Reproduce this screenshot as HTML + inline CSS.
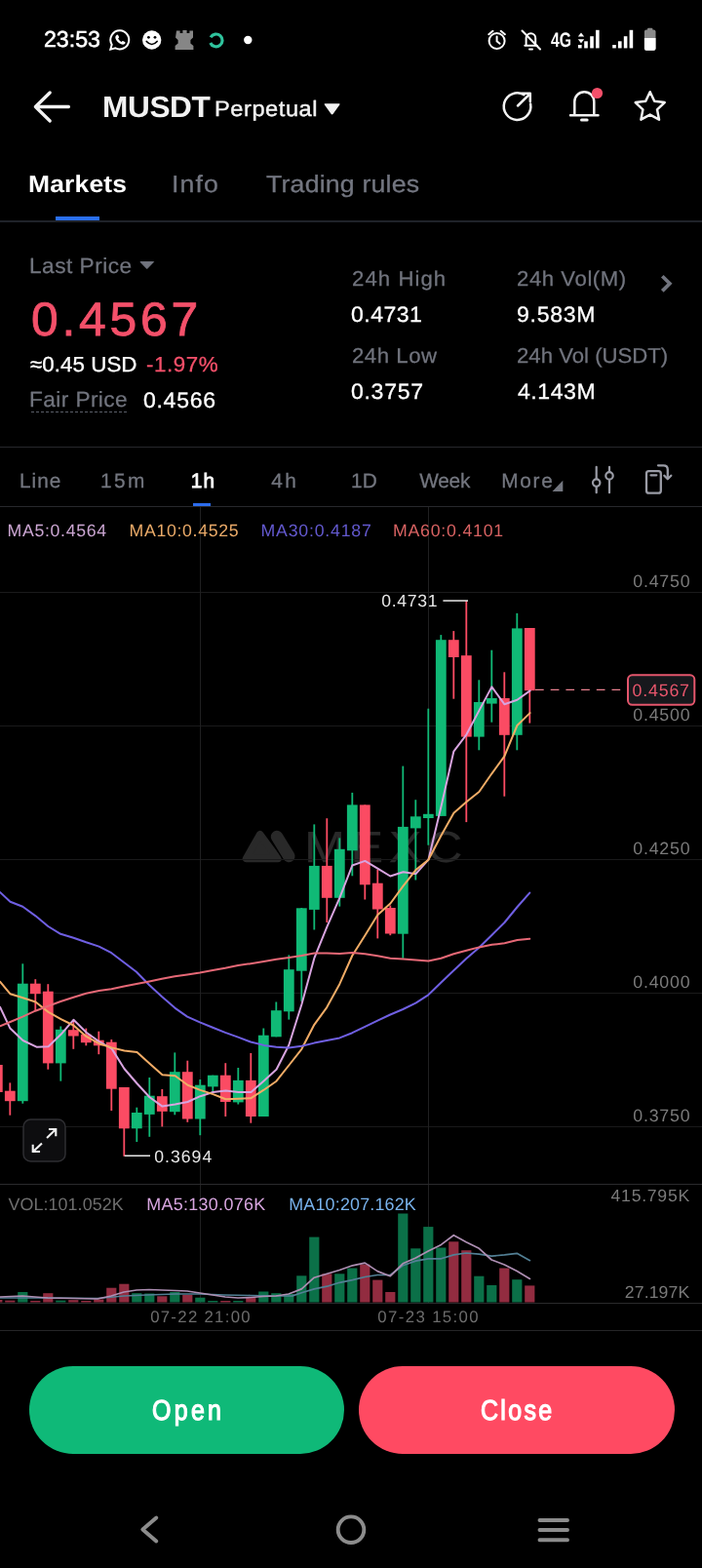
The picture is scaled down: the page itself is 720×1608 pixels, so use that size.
<!DOCTYPE html>
<html lang="en"><head><meta charset="utf-8"><title>MUSDT Perpetual</title>
<meta name="viewport" content="width=720">
<style>
html,body{margin:0;padding:0;background:#000;}
body{width:720px;height:1608px;position:relative;overflow:hidden;font-family:"Liberation Sans",sans-serif;}
.abs{position:absolute;}
.t{position:absolute;white-space:pre;line-height:1;transform-origin:0 0;text-rendering:geometricPrecision;font-family:"Liberation Sans",sans-serif;}
.btn{position:absolute;top:1401px;height:90px;border-radius:45px;}
</style></head><body>
<div class="abs" style="left:0;top:226.3px;width:720px;height:1.6px;background:#1f2229"></div>
<div class="abs" style="left:57px;top:221.5px;width:45px;height:4.6px;background:#2a6ff0"></div>
<div class="abs" style="left:0;top:457.6px;width:720px;height:1.4px;background:#27282c"></div>
<div class="abs" style="left:0;top:518.8px;width:720px;height:1.4px;background:#27282c"></div>
<div class="abs" style="left:198.2px;top:515.6px;width:18px;height:3.8px;background:#2c6cec"></div>
<div class="abs" style="left:31.5px;top:421.5px;width:98px;height:0;border-top:1.5px dashed #5a5e68"></div>
<svg class="abs" style="left:0;top:0" width="720" height="1608" viewBox="0 0 720 1608"><g fill="#292929" stroke="#292929" stroke-linejoin="round" stroke-linecap="round"><path d="M266.7 855.7 L252.5 880.5 L285 880.5 Z" stroke-width="7.5"/><path d="M284 858 L296.300 878" stroke-width="15" stroke="#000" fill="none"/><path d="M284 858 L296.300 878" stroke-width="12.5" fill="none"/></g></svg>
<span class="t" style="left:312.47px;top:846px;font-size:45px;color:#292929;letter-spacing:4.98px;transform:scaleX(1.12);-webkit-text-stroke:0.25px #292929;">MEXC</span>
<svg class="abs" style="left:0;top:0" width="720" height="1608" viewBox="0 0 720 1608"><rect x="0" y="607" width="720" height="1" fill="#1a1a1b"/><rect x="0" y="744" width="720" height="1" fill="#1a1a1b"/><rect x="0" y="881" width="720" height="1" fill="#1a1a1b"/><rect x="0" y="1018" width="720" height="1" fill="#1a1a1b"/><rect x="0" y="1155" width="720" height="1" fill="#1a1a1b"/><rect x="205" y="520" width="1" height="816" fill="#202021"/><rect x="439" y="520" width="1" height="816" fill="#202021"/><rect x="0" y="1214" width="720" height="1" fill="#2a2a2c"/><rect x="0" y="1336" width="720" height="1" fill="#2a2a2c"/><rect x="0" y="1364" width="720" height="1" fill="#252527"/><rect x="-3.60" y="1092.0" width="1.8" height="28.0" fill="#fb4b63"/><rect x="-8.10" y="1092.0" width="10.8" height="28.0" fill="#fb4b63"/><rect x="9.40" y="1110.4" width="1.8" height="33.3" fill="#fb4b63"/><rect x="4.90" y="1118.7" width="10.8" height="10.5" fill="#fb4b63"/><rect x="22.40" y="988.3" width="1.8" height="143.4" fill="#10b976"/><rect x="17.90" y="1008.7" width="10.8" height="120.5" fill="#10b976"/><rect x="35.40" y="1004.2" width="1.8" height="32.0" fill="#fb4b63"/><rect x="30.90" y="1008.7" width="10.8" height="10.5" fill="#fb4b63"/><rect x="48.40" y="1009.2" width="1.8" height="87.5" fill="#fb4b63"/><rect x="43.90" y="1016.7" width="10.8" height="73.7" fill="#fb4b63"/><rect x="61.40" y="1052.5" width="1.8" height="56.2" fill="#10b976"/><rect x="56.90" y="1055.8" width="10.8" height="34.6" fill="#10b976"/><rect x="74.40" y="1046.0" width="1.8" height="29.8" fill="#fb4b63"/><rect x="69.90" y="1056.2" width="10.8" height="6.3" fill="#fb4b63"/><rect x="87.40" y="1054.6" width="1.8" height="17.7" fill="#fb4b63"/><rect x="82.90" y="1060.8" width="10.8" height="8.4" fill="#fb4b63"/><rect x="100.40" y="1057.7" width="1.8" height="23.5" fill="#fb4b63"/><rect x="95.90" y="1066.7" width="10.8" height="5.6" fill="#fb4b63"/><rect x="113.40" y="1066.0" width="1.8" height="73.0" fill="#fb4b63"/><rect x="108.90" y="1068.7" width="10.8" height="48.0" fill="#fb4b63"/><rect x="126.40" y="1115.0" width="1.8" height="70.8" fill="#fb4b63"/><rect x="121.90" y="1115.0" width="10.8" height="42.3" fill="#fb4b63"/><rect x="139.40" y="1135.7" width="1.8" height="35.3" fill="#10b976"/><rect x="134.90" y="1141.0" width="10.8" height="16.3" fill="#10b976"/><rect x="152.40" y="1105.0" width="1.8" height="60.8" fill="#10b976"/><rect x="147.90" y="1123.7" width="10.8" height="19.2" fill="#10b976"/><rect x="165.40" y="1116.9" width="1.8" height="38.5" fill="#fb4b63"/><rect x="160.90" y="1124.2" width="10.8" height="15.6" fill="#fb4b63"/><rect x="178.40" y="1079.4" width="1.8" height="63.9" fill="#10b976"/><rect x="173.90" y="1099.2" width="10.8" height="41.0" fill="#10b976"/><rect x="191.40" y="1087.7" width="1.8" height="63.1" fill="#fb4b63"/><rect x="186.90" y="1099.2" width="10.8" height="48.3" fill="#fb4b63"/><rect x="204.40" y="1107.0" width="1.8" height="57.2" fill="#10b976"/><rect x="199.90" y="1112.7" width="10.8" height="34.8" fill="#10b976"/><rect x="217.40" y="1102.7" width="1.8" height="16.9" fill="#10b976"/><rect x="212.90" y="1102.7" width="10.8" height="11.7" fill="#10b976"/><rect x="230.40" y="1090.2" width="1.8" height="54.8" fill="#fb4b63"/><rect x="225.90" y="1102.7" width="10.8" height="27.3" fill="#fb4b63"/><rect x="243.40" y="1095.0" width="1.8" height="37.5" fill="#10b976"/><rect x="238.90" y="1107.9" width="10.8" height="22.5" fill="#10b976"/><rect x="256.40" y="1080.0" width="1.8" height="71.7" fill="#fb4b63"/><rect x="251.90" y="1107.9" width="10.8" height="37.1" fill="#fb4b63"/><rect x="269.40" y="1054.5" width="1.8" height="90.5" fill="#10b976"/><rect x="264.90" y="1061.7" width="10.8" height="83.3" fill="#10b976"/><rect x="282.40" y="1027.5" width="1.8" height="35.8" fill="#10b976"/><rect x="277.90" y="1036.2" width="10.8" height="27.1" fill="#10b976"/><rect x="295.40" y="979.4" width="1.8" height="66.2" fill="#10b976"/><rect x="290.90" y="994.2" width="10.8" height="43.1" fill="#10b976"/><rect x="308.40" y="931.0" width="1.8" height="95.9" fill="#10b976"/><rect x="303.90" y="931.3" width="10.8" height="64.4" fill="#10b976"/><rect x="321.40" y="845.4" width="1.8" height="108.1" fill="#10b976"/><rect x="316.90" y="887.9" width="10.8" height="45.0" fill="#10b976"/><rect x="334.40" y="839.2" width="1.8" height="106.8" fill="#fb4b63"/><rect x="329.90" y="887.9" width="10.8" height="32.9" fill="#fb4b63"/><rect x="347.40" y="859.4" width="1.8" height="70.2" fill="#10b976"/><rect x="342.90" y="870.8" width="10.8" height="50.0" fill="#10b976"/><rect x="360.40" y="812.9" width="1.8" height="85.4" fill="#10b976"/><rect x="355.90" y="825.4" width="10.8" height="46.9" fill="#10b976"/><rect x="373.40" y="825.4" width="1.8" height="97.1" fill="#fb4b63"/><rect x="368.90" y="825.4" width="10.8" height="81.9" fill="#fb4b63"/><rect x="386.40" y="891.7" width="1.8" height="70.7" fill="#fb4b63"/><rect x="381.90" y="905.7" width="10.8" height="26.8" fill="#fb4b63"/><rect x="399.40" y="928.5" width="1.8" height="30.7" fill="#fb4b63"/><rect x="394.90" y="931.0" width="10.8" height="26.5" fill="#fb4b63"/><rect x="412.40" y="785.6" width="1.8" height="197.1" fill="#10b976"/><rect x="407.90" y="847.9" width="10.8" height="109.8" fill="#10b976"/><rect x="425.40" y="820.2" width="1.8" height="82.3" fill="#10b976"/><rect x="420.90" y="837.3" width="10.8" height="12.1" fill="#10b976"/><rect x="438.40" y="726.7" width="1.8" height="140.0" fill="#10b976"/><rect x="433.90" y="834.8" width="10.8" height="4.2" fill="#10b976"/><rect x="451.40" y="651.1" width="1.8" height="185.8" fill="#10b976"/><rect x="446.90" y="656.2" width="10.8" height="180.7" fill="#10b976"/><rect x="464.40" y="647.1" width="1.8" height="69.6" fill="#fb4b63"/><rect x="459.90" y="656.2" width="10.8" height="17.8" fill="#fb4b63"/><rect x="477.40" y="616.0" width="1.8" height="227.1" fill="#fb4b63"/><rect x="472.90" y="672.2" width="10.8" height="83.4" fill="#fb4b63"/><rect x="490.40" y="697.3" width="1.8" height="72.0" fill="#10b976"/><rect x="485.90" y="720.0" width="10.8" height="35.6" fill="#10b976"/><rect x="503.40" y="666.7" width="1.8" height="74.0" fill="#10b976"/><rect x="498.90" y="716.0" width="10.8" height="5.6" fill="#10b976"/><rect x="516.40" y="689.3" width="1.8" height="127.4" fill="#fb4b63"/><rect x="511.90" y="716.0" width="10.8" height="37.8" fill="#fb4b63"/><rect x="529.40" y="628.9" width="1.8" height="140.4" fill="#10b976"/><rect x="524.90" y="644.4" width="10.8" height="109.4" fill="#10b976"/><rect x="542.40" y="644.0" width="1.8" height="97.6" fill="#fb4b63"/><rect x="537.90" y="644.0" width="10.8" height="64.2" fill="#fb4b63"/><polyline points="0.0,1032.7 10.4,1054.6 23.5,1067.0 37.5,1073.7 49.6,1073.3 62.5,1060.8 75.4,1045.8 88.5,1058.7 101.5,1068.0 114.6,1075.4 127.5,1096.0 140.4,1111.0 153.5,1125.2 166.5,1134.6 179.6,1132.5 192.5,1130.0 205.4,1124.2 218.5,1120.0 231.5,1118.5 244.6,1120.0 257.5,1120.0 270.6,1108.5 283.5,1096.7 296.3,1071.7 309.4,1030.0 322.3,982.7 335.2,950.8 348.3,920.8 361.3,887.5 374.4,882.9 387.3,890.6 400.3,898.5 413.5,894.2 426.5,896.2 439.4,881.7 452.5,827.0 465.3,770.7 478.4,753.3 491.3,728.9 504.4,704.4 517.3,722.2 530.4,717.8 543.6,708.4" fill="none" stroke="#d8a4e0" stroke-width="2" stroke-linejoin="round" stroke-linecap="round" opacity="1"/><polyline points="0.0,1006.7 10.4,1019.2 23.5,1023.3 36.5,1027.5 49.6,1037.9 62.5,1045.2 75.4,1051.5 88.5,1062.9 101.5,1070.2 114.6,1074.4 127.5,1077.5 140.5,1079.1 153.5,1090.8 166.5,1102.3 179.6,1103.3 192.5,1112.7 205.4,1117.9 218.5,1122.1 231.5,1127.3 244.6,1126.7 257.5,1126.2 270.6,1117.7 283.5,1108.7 296.3,1092.5 309.4,1075.8 322.3,1050.8 335.2,1033.1 348.3,1009.2 361.3,980.0 374.4,959.2 387.3,938.3 400.4,926.5 413.5,908.7 426.5,892.1 439.4,881.7 452.5,856.7 465.4,833.7 478.5,822.3 491.4,812.0 504.4,793.3 517.3,775.6 530.4,744.0 543.6,731.1" fill="none" stroke="#f2ac66" stroke-width="2" stroke-linejoin="round" stroke-linecap="round" opacity="1"/><polyline points="0.0,915.0 10.5,924.7 23.3,929.8 36.2,939.1 49.4,950.0 62.2,957.8 75.4,961.7 88.3,966.3 101.5,970.6 114.3,977.2 127.2,987.0 140.0,996.7 153.2,1010.3 166.0,1022.0 179.3,1033.6 192.1,1042.6 205.0,1048.4 218.2,1053.8 231.0,1058.9 244.2,1063.6 257.1,1068.5 270.6,1071.9 283.5,1073.7 296.3,1074.4 309.4,1072.7 322.3,1069.6 335.2,1067.1 348.3,1064.4 361.3,1059.2 374.4,1052.9 387.3,1046.7 400.3,1040.5 413.3,1035.0 426.4,1028.6 439.2,1020.3 452.2,1007.8 465.3,995.3 478.3,983.0 491.1,972.0 504.4,959.0 517.5,946.0 530.6,930.0 543.3,915.6" fill="none" stroke="#6f5fe2" stroke-width="2" stroke-linejoin="round" stroke-linecap="round" opacity="1"/><polyline points="0.0,1052.3 10.5,1048.0 23.3,1042.6 36.2,1036.7 49.4,1031.7 62.2,1027.0 75.4,1022.7 88.3,1018.8 101.5,1016.1 114.3,1014.2 127.2,1011.5 140.0,1009.1 153.2,1006.4 166.0,1003.7 179.3,1001.3 192.1,999.4 205.0,997.5 218.2,995.1 231.0,992.8 244.2,990.1 257.1,988.2 270.6,986.0 283.5,983.7 296.3,982.1 309.4,980.0 322.3,977.5 335.2,977.5 348.3,977.9 361.3,977.1 374.4,978.3 387.3,980.2 400.3,982.7 413.4,983.5 426.4,984.6 439.3,985.5 452.3,982.8 465.3,978.2 478.4,974.7 491.3,971.4 504.5,968.8 517.5,967.3 530.6,964.0 543.3,962.8" fill="none" stroke="#e66876" stroke-width="2" stroke-linejoin="round" stroke-linecap="round" opacity="1"/><rect x="-7.80" y="1333.0" width="10.2" height="2.5" fill="#922c40"/><rect x="5.20" y="1333.7" width="10.2" height="1.8" fill="#922c40"/><rect x="18.20" y="1325.0" width="10.2" height="10.5" fill="#0b7048"/><rect x="31.20" y="1334.0" width="10.2" height="1.5" fill="#922c40"/><rect x="44.20" y="1326.2" width="10.2" height="9.3" fill="#922c40"/><rect x="57.20" y="1333.7" width="10.2" height="1.8" fill="#0b7048"/><rect x="70.20" y="1333.2" width="10.2" height="2.3" fill="#922c40"/><rect x="83.20" y="1334.0" width="10.2" height="1.5" fill="#922c40"/><rect x="96.20" y="1332.5" width="10.2" height="3.0" fill="#922c40"/><rect x="109.20" y="1320.7" width="10.2" height="14.8" fill="#922c40"/><rect x="122.20" y="1316.7" width="10.2" height="18.8" fill="#922c40"/><rect x="135.20" y="1326.2" width="10.2" height="9.3" fill="#0b7048"/><rect x="148.20" y="1326.5" width="10.2" height="9.0" fill="#0b7048"/><rect x="161.20" y="1329.3" width="10.2" height="6.2" fill="#922c40"/><rect x="174.20" y="1325.0" width="10.2" height="10.5" fill="#0b7048"/><rect x="187.20" y="1328.0" width="10.2" height="7.5" fill="#922c40"/><rect x="200.20" y="1330.7" width="10.2" height="4.8" fill="#0b7048"/><rect x="213.20" y="1334.0" width="10.2" height="1.5" fill="#0b7048"/><rect x="226.20" y="1334.0" width="10.2" height="1.5" fill="#922c40"/><rect x="239.20" y="1334.0" width="10.2" height="1.5" fill="#0b7048"/><rect x="252.20" y="1330.0" width="10.2" height="5.5" fill="#922c40"/><rect x="265.20" y="1324.5" width="10.2" height="11.0" fill="#0b7048"/><rect x="278.20" y="1326.2" width="10.2" height="9.3" fill="#0b7048"/><rect x="291.20" y="1327.0" width="10.2" height="8.5" fill="#0b7048"/><rect x="304.20" y="1308.3" width="10.2" height="27.2" fill="#0b7048"/><rect x="317.20" y="1268.6" width="10.2" height="66.9" fill="#0b7048"/><rect x="330.20" y="1306.3" width="10.2" height="29.2" fill="#922c40"/><rect x="343.20" y="1306.3" width="10.2" height="29.2" fill="#0b7048"/><rect x="356.20" y="1300.5" width="10.2" height="35.0" fill="#0b7048"/><rect x="369.20" y="1296.6" width="10.2" height="38.9" fill="#922c40"/><rect x="382.20" y="1312.6" width="10.2" height="22.9" fill="#922c40"/><rect x="395.20" y="1325.0" width="10.2" height="10.5" fill="#922c40"/><rect x="408.20" y="1244.5" width="10.2" height="91.0" fill="#0b7048"/><rect x="421.20" y="1280.3" width="10.2" height="55.2" fill="#0b7048"/><rect x="434.20" y="1258.1" width="10.2" height="77.4" fill="#0b7048"/><rect x="447.20" y="1279.5" width="10.2" height="56.0" fill="#0b7048"/><rect x="460.20" y="1273.3" width="10.2" height="62.2" fill="#922c40"/><rect x="473.20" y="1282.2" width="10.2" height="53.3" fill="#922c40"/><rect x="486.20" y="1308.7" width="10.2" height="26.8" fill="#0b7048"/><rect x="499.20" y="1318.0" width="10.2" height="17.5" fill="#0b7048"/><rect x="512.20" y="1300.5" width="10.2" height="35.0" fill="#922c40"/><rect x="525.20" y="1312.2" width="10.2" height="23.3" fill="#0b7048"/><rect x="538.20" y="1318.4" width="10.2" height="17.1" fill="#922c40"/><polyline points="0.0,1331.0 50.0,1331.0 100.0,1331.5 127.0,1329.0 150.0,1328.0 180.0,1327.0 205.0,1327.0 230.0,1328.0 257.0,1328.5 283.0,1329.0 300.0,1328.9 309.3,1325.8 322.2,1321.9 335.4,1319.2 348.2,1315.3 361.5,1312.6 374.3,1309.5 387.1,1307.5 400.3,1307.5 413.2,1297.8 426.4,1293.1 439.2,1290.8 452.5,1290.8 465.3,1286.9 478.1,1285.0 491.4,1286.1 504.2,1288.1 517.4,1286.9 530.2,1285.3 543.5,1292.7" fill="none" stroke="#527f94" stroke-width="1.7" stroke-linejoin="round" stroke-linecap="round" opacity="1"/><polyline points="0.0,1330.0 23.0,1329.0 49.0,1331.0 75.0,1331.5 100.0,1332.0 114.0,1329.0 127.0,1325.0 140.0,1323.0 153.0,1322.5 166.0,1323.0 180.0,1323.5 192.0,1324.0 205.0,1326.0 218.0,1328.0 231.0,1330.0 244.0,1331.0 257.0,1330.5 270.0,1329.5 283.0,1329.0 296.0,1327.0 309.3,1321.9 322.2,1310.2 335.4,1306.3 348.2,1302.5 361.5,1297.8 374.3,1295.1 387.1,1303.6 400.3,1308.7 413.2,1295.8 426.4,1290.0 439.2,1283.0 452.5,1276.4 465.3,1266.7 478.1,1273.7 491.4,1280.3 504.2,1292.0 517.4,1297.0 530.2,1303.6 543.5,1311.4" fill="none" stroke="#ad8eb2" stroke-width="1.7" stroke-linejoin="round" stroke-linecap="round" opacity="1"/><rect x="454.4" y="615.3" width="25.6" height="1.5" fill="#e8e8e8"/><rect x="127.7" y="1184.5" width="26.3" height="1.5" fill="#e8e8e8"/><line x1="549" y1="707.3" x2="641" y2="707.3" stroke="#e8808e" stroke-width="1.2" stroke-dasharray="8.7 7"/><rect x="644" y="692.300" width="68.300" height="30.500" rx="4.500" fill="#17181c" stroke="#e4566c" stroke-width="2"/></svg>
<svg class="abs" style="left:0;top:0" width="720" height="1608" viewBox="0 0 720 1608" fill="none">
<!-- status icons -->
<g id="wa"><path d="M123 31.2a9.6 9.6 0 0 0-8.3 14.5l-1.4 5 5.1-1.3A9.6 9.6 0 1 0 123 31.200z" stroke="#fff" stroke-width="2"/><path d="M119.300 36.300c.5-1 1.300-1 1.800-.300l.9 1.700c.200.500 0 .9-.400 1.300l-.5.600c.8 1.500 1.900 2.600 3.400 3.400l.7-.6c.400-.300.800-.500 1.300-.200l1.600.9c.7.500.600 1.300-.2 1.900-1 .8-2.300.9-3.700.300-2.700-1.200-4.600-3.100-5.600-5.600-.500-1.300-.300-2.500.7-3.400z" fill="#fff"/></g>
<g id="smile"><circle cx="155.700" cy="41" r="9.700" fill="#fff"/><circle cx="152.400" cy="38.300" r="1.400" fill="#000"/><circle cx="159" cy="38.300" r="1.400" fill="#000"/><path d="M150.300 42.500q5.400 6 10.800 0" stroke="#000" stroke-width="1.700" stroke-linecap="round"/></g>
<g id="rook" fill="#868686"><path d="M181 31.500h3.600v2.600h2.800v-3h4.200v3h2.800v-2.600h3.600v7l-2.600 2.400v3.600l3 2.600v3.900h-18.800v-3.900l3-2.600v-3.600l-2.600-2.400z"/></g>
<g id="spin"><path d="M216.100 38.200a6.400 6.400 0 1 1 -.3 5.800" stroke="#2fc39d" stroke-width="3.200" stroke-linecap="butt"/></g>
<circle cx="254.300" cy="41" r="4.200" fill="#fff"/>
<g id="alarm" stroke="#fff" stroke-width="2" stroke-linecap="round"><circle cx="509.600" cy="42" r="8"/><path d="M509.600 37.500v4.800l3 2.400"/><path d="M501.300 35.200l4.200-3.400M517.900 35.200l-4.200-3.400"/></g>
<g id="mute" stroke="#fff" stroke-width="2" stroke-linecap="round" stroke-linejoin="round"><path d="M538.300 46.800h12.400M539.600 46.500v-7.500a4.800 4.800 0 0 1 9.600 0v7.500"/><path d="M543 50.500h3"/><path d="M535.500 31.500l18.500 19"/></g>
<g id="sig1" fill="#fff"><path d="M596 33.500l3.200 4h-6.400zM596 44.200l-3.200-4h6.400z"/><rect x="593" y="46" width="3.600" height="3.400"/><rect x="599.200" y="42.300" width="3.600" height="7.100"/><rect x="605.200" y="37.200" width="3.600" height="12.200"/><rect x="611" y="30.800" width="3.600" height="18.600"/></g>
<g id="sig2" fill="#fff"><rect x="628.200" y="46" width="3.600" height="3.400"/><rect x="634" y="42.300" width="3.600" height="7.100"/><rect x="639.800" y="37.200" width="3.600" height="12.200"/><rect x="645.600" y="30.800" width="3.600" height="18.600"/></g>
<g id="bat"><rect x="664" y="28.700" width="5.400" height="3" rx="1" fill="#8a8a8a"/><rect x="660.900" y="30.500" width="11.600" height="21.200" rx="2" fill="#8a8a8a"/><path d="M660.900 39h11.600v10.700a2 2 0 0 1-2 2h-7.600a2 2 0 0 1-2-2z" fill="#fff"/></g>
<!-- header -->
<g stroke="#f2f2f2" stroke-width="3.300" stroke-linecap="round" stroke-linejoin="round"><path d="M36.400 109.500h34M51.200 95l-14.800 14.500 14.800 14.500"/></g>
<path d="M333.500 106.200h14.200q1.600 0 .6 1.400l-6.600 9.200q-1.100 1.500-2.200 0l-6.600-9.200q-1-1.400.6-1.400z" fill="#f2f2f2"/>
<g stroke="#f2f2f2" stroke-width="2.500" stroke-linecap="round" stroke-linejoin="round"><path d="M537.500 97.200a13.800 13.800 0 1 0 6.600 9.300"/><path d="M531 108.500l12.600-12.300M535.500 95.800h8.300v8.300"/></g>
<g stroke="#f2f2f2" stroke-width="2.500" stroke-linecap="round" stroke-linejoin="round"><path d="M585 118.300h28.500M589.300 118v-13.800a10 10 0 0 1 20 0v13.800"/><path d="M596.500 123h5.600" stroke-width="3"/></g>
<circle cx="612.500" cy="95.500" r="5.600" fill="#f4506a"/>
<path d="M666.700 94.200l4.500 9.600 10.500 1.300-7.700 7.200 2 10.400-9.300-5.100-9.300 5.100 2-10.400-7.700-7.200 10.500-1.300z" stroke="#f2f2f2" stroke-width="2.500" stroke-linejoin="round"/>
<!-- last price caret, chevron -->
<path d="M144 268.600h13.600l-6.800 7z" fill="#71747e" stroke="#71747e" stroke-width="1" stroke-linejoin="round"/>
<path d="M679.300 283.200l7.600 7.600-7.600 7.600" stroke="#71747e" stroke-width="3.700" stroke-linecap="butt" stroke-linejoin="miter"/>
<!-- More triangle -->
<path d="M577.300 492.800v11.200h-10.800z" fill="#73767f"/>
<!-- sliders -->
<g stroke="#9a9ca6" stroke-width="2.200" stroke-linecap="round"><path d="M611.700 478.800v12.200M611.700 499.200v6M625 478.800v5M625 492v13.200"/><circle cx="611.700" cy="495.100" r="3.700"/><circle cx="625" cy="487.900" r="3.700"/></g>
<!-- rotate phone -->
<g stroke="#9a9ca6" stroke-width="2.300" stroke-linecap="round" stroke-linejoin="round"><rect x="663" y="483.200" width="14.800" height="22.500" rx="2.500"/><path d="M667.500 487.300h5.800"/><path d="M675 477.300h5.500q4.300 0 4.300 4.300v8.500"/><path d="M681.300 487.800l3.500 3.500 3.500-3.500"/></g>
<!-- expand button -->
<rect x="24" y="1148" width="43" height="43" rx="7.500" fill="#0d0d0f" stroke="#2e2e32" stroke-width="1.500"/>
<g stroke="#f0f0f0" stroke-width="2.100" stroke-linecap="square" stroke-linejoin="miter"><path d="M48.800 1166.200l8-7.600M51 1158h6.300v6.300"/><path d="M42.200 1173.200l-8 7.600M40 1181h-6.300v-6.300"/></g>
<!-- nav bar -->
<g stroke="#8c8c8c" stroke-width="3.900" stroke-linecap="round" stroke-linejoin="round"><path d="M160.300 1556.500l-14 12 14 12"/><circle cx="360" cy="1568.700" r="13.300"/><path d="M553.500 1559h28.500M553.500 1569h28.500M553.500 1579.300h28.500"/></g>
</svg>

<div class="btn" style="left:30px;width:323px;background:#0fb978"></div>
<div class="btn" style="left:367.5px;width:324.5px;background:#ff4a62"></div>
<span class="t" style="left:44.91px;top:29px;font-size:23.2px;color:#ffffff;letter-spacing:0.014px;transform:scaleX(1.0000);-webkit-text-stroke:0.55px #ffffff;">23:53</span>
<span class="t" style="left:564.76px;top:31px;font-size:21px;color:#ffffff;transform:scaleX(0.7513);font-weight:700;">4G</span>
<span class="t" style="left:105.44px;top:95px;font-size:30.4px;color:#f2f2f2;letter-spacing:-0.366px;transform:scaleX(1.0400);font-weight:700;">MUSDT</span>
<span class="t" style="left:219.61px;top:101px;font-size:22.3px;color:#f2f2f2;letter-spacing:0.514px;transform:scaleX(1.0600);-webkit-text-stroke:0.4px #f2f2f2;">Perpetual</span>
<span class="t" style="left:28.78px;top:178px;font-size:24.5px;color:#ffffff;letter-spacing:0.148px;transform:scaleX(1.0800);font-weight:700;">Markets</span>
<span class="t" style="left:175.75px;top:178px;font-size:24.5px;color:#737680;letter-spacing:1.012px;transform:scaleX(1.0900);-webkit-text-stroke:0.3px #737680;">Info</span>
<span class="t" style="left:273.02px;top:178px;font-size:24.5px;color:#737680;letter-spacing:0.174px;transform:scaleX(1.0900);-webkit-text-stroke:0.3px #737680;">Trading rules</span>
<span class="t" style="left:30.01px;top:262px;font-size:22px;color:#71747e;letter-spacing:0.481px;transform:scaleX(1.0300);-webkit-text-stroke:0.25px #71747e;">Last Price</span>
<span class="t" style="left:31.61px;top:304px;font-size:48.4px;color:#f4506a;letter-spacing:3.639px;transform:scaleX(1.0300);-webkit-text-stroke:0.8px #f4506a;">0.4567</span>
<span class="t" style="left:30.99px;top:363px;font-size:21.7px;color:#ffffff;letter-spacing:0.048px;transform:scaleX(1.0300);-webkit-text-stroke:0.3px #ffffff;">≈0.45 USD</span>
<span class="t" style="left:149.54px;top:363px;font-size:21.7px;color:#f4506a;letter-spacing:0.570px;transform:scaleX(1.0300);-webkit-text-stroke:0.3px #f4506a;">-1.97%</span>
<span class="t" style="left:29.71px;top:399px;font-size:22px;color:#71747e;letter-spacing:0.400px;transform:scaleX(1.0300);-webkit-text-stroke:0.25px #71747e;">Fair Price</span>
<span class="t" style="left:146.63px;top:400px;font-size:22.4px;color:#ffffff;letter-spacing:0.672px;transform:scaleX(1.0300);-webkit-text-stroke:0.3px #ffffff;">0.4566</span>
<span class="t" style="left:360.72px;top:276px;font-size:21.5px;color:#71747e;letter-spacing:1.043px;transform:scaleX(1.0300);-webkit-text-stroke:0.25px #71747e;">24h High</span>
<span class="t" style="left:360.43px;top:312px;font-size:22.4px;color:#ffffff;letter-spacing:0.458px;transform:scaleX(1.0300);-webkit-text-stroke:0.3px #ffffff;">0.4731</span>
<span class="t" style="left:360.72px;top:355px;font-size:21.5px;color:#71747e;letter-spacing:0.540px;transform:scaleX(1.0300);-webkit-text-stroke:0.25px #71747e;">24h Low</span>
<span class="t" style="left:360.43px;top:391px;font-size:22.4px;color:#ffffff;letter-spacing:0.675px;transform:scaleX(1.0300);-webkit-text-stroke:0.3px #ffffff;">0.3757</span>
<span class="t" style="left:530.02px;top:276px;font-size:21.5px;color:#71747e;letter-spacing:0.552px;transform:scaleX(1.0300);-webkit-text-stroke:0.25px #71747e;">24h Vol(M)</span>
<span class="t" style="left:530.11px;top:312px;font-size:22.4px;color:#ffffff;letter-spacing:0.707px;transform:scaleX(1.0300);-webkit-text-stroke:0.3px #ffffff;">9.583M</span>
<span class="t" style="left:530.02px;top:355px;font-size:21.5px;color:#71747e;letter-spacing:0.013px;transform:scaleX(1.0300);-webkit-text-stroke:0.25px #71747e;">24h Vol (USDT)</span>
<span class="t" style="left:530.57px;top:391px;font-size:22.4px;color:#ffffff;letter-spacing:0.520px;transform:scaleX(1.0300);-webkit-text-stroke:0.3px #ffffff;">4.143M</span>
<span class="t" style="left:19.99px;top:484px;font-size:20.8px;color:#73767f;letter-spacing:0.996px;transform:scaleX(1.0000);-webkit-text-stroke:0.3px #73767f;">Line</span>
<span class="t" style="left:103.09px;top:484px;font-size:20.8px;color:#73767f;letter-spacing:2.380px;transform:scaleX(1.0000);-webkit-text-stroke:0.3px #73767f;">15m</span>
<span class="t" style="left:195.84px;top:484px;font-size:20.8px;color:#ffffff;letter-spacing:1.024px;transform:scaleX(1.0000);-webkit-text-stroke:0.8px #ffffff;">1h</span>
<span class="t" style="left:278.13px;top:484px;font-size:20.8px;color:#73767f;letter-spacing:2.484px;transform:scaleX(1.0000);-webkit-text-stroke:0.3px #73767f;">4h</span>
<span class="t" style="left:360.09px;top:484px;font-size:20.8px;color:#73767f;letter-spacing:0.176px;transform:scaleX(1.0000);-webkit-text-stroke:0.3px #73767f;">1D</span>
<span class="t" style="left:430.25px;top:484px;font-size:20.8px;color:#73767f;letter-spacing:-0.243px;transform:scaleX(1.0000);-webkit-text-stroke:0.3px #73767f;">Week</span>
<span class="t" style="left:514.19px;top:484px;font-size:20.8px;color:#73767f;letter-spacing:1.727px;transform:scaleX(1.0000);-webkit-text-stroke:0.3px #73767f;">More</span>
<span class="t" style="left:7.58px;top:536px;font-size:17.7px;color:#cba6d2;letter-spacing:0.672px;transform:scaleX(1.0000);">MA5:0.4564</span>
<span class="t" style="left:132.58px;top:536px;font-size:17.7px;color:#eaaa68;letter-spacing:0.681px;transform:scaleX(1.0000);">MA10:0.4525</span>
<span class="t" style="left:267.58px;top:536px;font-size:17.7px;color:#6359cf;letter-spacing:0.799px;transform:scaleX(1.0000);">MA30:0.4187</span>
<span class="t" style="left:402.98px;top:536px;font-size:17.7px;color:#d86262;letter-spacing:0.800px;transform:scaleX(1.0000);">MA60:0.4101</span>
<span class="t" style="left:649.29px;top:588px;font-size:17.8px;color:#7a7a7a;letter-spacing:0.791px;transform:scaleX(1.0000);">0.4750</span>
<span class="t" style="left:649.29px;top:725px;font-size:17.8px;color:#7a7a7a;letter-spacing:0.791px;transform:scaleX(1.0000);">0.4500</span>
<span class="t" style="left:649.29px;top:862px;font-size:17.8px;color:#7a7a7a;letter-spacing:0.791px;transform:scaleX(1.0000);">0.4250</span>
<span class="t" style="left:649.29px;top:999px;font-size:17.8px;color:#7a7a7a;letter-spacing:0.791px;transform:scaleX(1.0000);">0.4000</span>
<span class="t" style="left:649.29px;top:1136px;font-size:17.8px;color:#7a7a7a;letter-spacing:0.791px;transform:scaleX(1.0000);">0.3750</span>
<span class="t" style="left:648.49px;top:700px;font-size:17.8px;color:#e8566c;letter-spacing:0.827px;transform:scaleX(1.0000);">0.4567</span>
<span class="t" style="left:391.30px;top:608px;font-size:17.6px;color:#e8e8e8;letter-spacing:0.688px;transform:scaleX(1.0000);">0.4731</span>
<span class="t" style="left:158.30px;top:1178px;font-size:17.6px;color:#e8e8e8;letter-spacing:1.015px;transform:scaleX(1.0000);">0.3694</span>
<span class="t" style="left:8.51px;top:1227px;font-size:17.9px;color:#6e6e6e;letter-spacing:0.068px;transform:scaleX(1.0000);">VOL:101.052K</span>
<span class="t" style="left:150.27px;top:1227px;font-size:17.9px;color:#d8a6e0;letter-spacing:0.318px;transform:scaleX(1.0000);">MA5:130.076K</span>
<span class="t" style="left:296.27px;top:1227px;font-size:17.9px;color:#78b2ec;letter-spacing:0.181px;transform:scaleX(1.0000);">MA10:207.162K</span>
<span class="t" style="left:626.56px;top:1218px;font-size:17.6px;color:#7a7a7a;letter-spacing:0.755px;transform:scaleX(1.0000);">415.795K</span>
<span class="t" style="left:640.82px;top:1317px;font-size:17.6px;color:#7a7a7a;letter-spacing:0.133px;transform:scaleX(1.0000);">27.197K</span>
<span class="t" style="left:154.13px;top:1343px;font-size:16.8px;color:#6c6c6c;letter-spacing:1.292px;transform:scaleX(1.0000);">07-22 21:00</span>
<span class="t" style="left:387.33px;top:1343px;font-size:16.8px;color:#6c6c6c;letter-spacing:1.372px;transform:scaleX(1.0000);">07-23 15:00</span>
<span class="t" style="left:156.18px;top:1433px;font-size:29px;color:#ffffff;letter-spacing:3.862px;transform:scaleX(0.8600);-webkit-text-stroke:1.2px #ffffff;">Open</span>
<span class="t" style="left:493.15px;top:1433px;font-size:29px;color:#ffffff;letter-spacing:2.746px;transform:scaleX(0.8600);-webkit-text-stroke:1.2px #ffffff;">Close</span>
</body></html>
